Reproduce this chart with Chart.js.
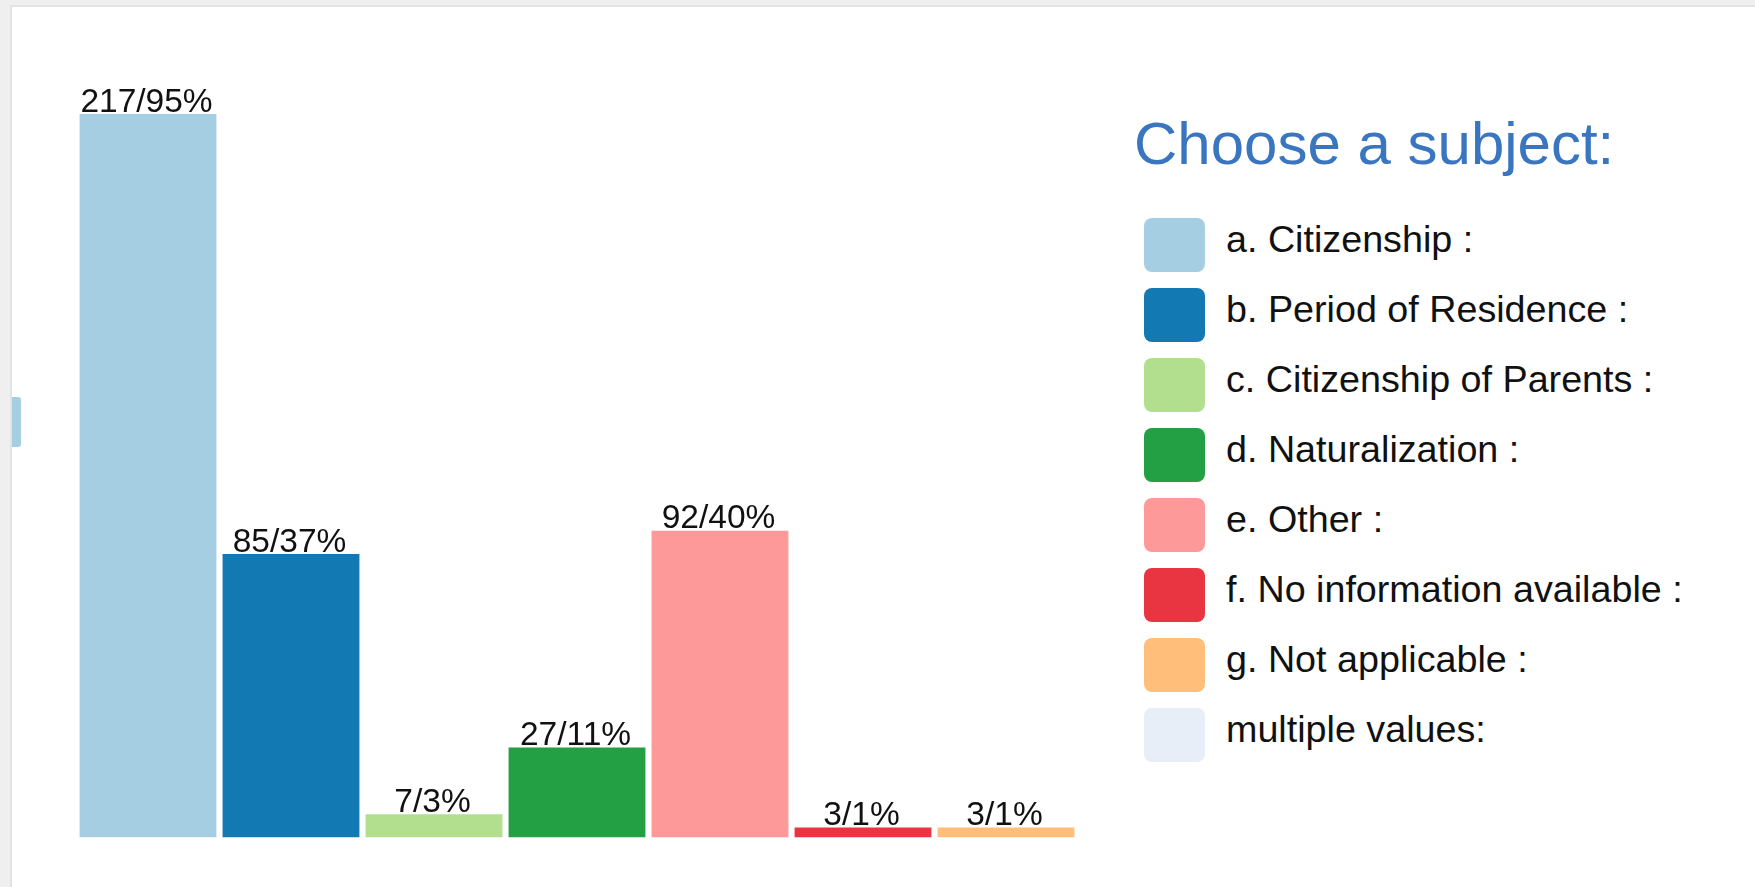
<!DOCTYPE html>
<html>
<head>
<meta charset="utf-8">
<title>Choose a subject</title>
<script src="https://cdn.jsdelivr.net/npm/chart.js@4.4.1/dist/chart.umd.min.js"></script>
<style>
  html, body { margin: 0; padding: 0; }
  body {
    width: 1755px; height: 887px; overflow: hidden;
    background: #efefef;
    font-family: "Liberation Sans", Arial, Helvetica, sans-serif;
  }
  .card {
    position: absolute; left: 10px; top: 5px; right: 0; bottom: 0;
    background: #fff;
    border-left: 2px solid #e3e3e3;
    border-top: 2px solid #e3e3e3;
    overflow: hidden;
  }
  #chart { position: absolute; left: 0; top: 0; }
  .edge-tab {
    position: absolute; left: 0; top: 390px; width: 9px; height: 50px;
    background: #a6cee3; border-radius: 0 3px 3px 0;
  }
  .legend { position: absolute; left: 1122px; top: 107px; }
  .legend h3 {
    margin: 0 0 44px 0; font-weight: normal; font-size: 60px; line-height: 60px;
    color: #3a76c0; letter-spacing: 0;
  }
  .legend ul { list-style: none; margin: 0; padding: 0 0 0 10px; }
  .legend li { display: flex; align-items: flex-start; height: 70px; cursor: pointer; }
  .legend .swatch { width: 61px; height: 54px; border-radius: 8px; flex: none; }
  .legend .name { margin-left: 21px; font-size: 37.7px; line-height: 43px; color: #111; white-space: nowrap; }
</style>
</head>
<body>
<div class="card">
  <canvas id="chart" width="1090" height="860"></canvas>
  <div class="edge-tab"></div>
  <div class="legend">
    <h3>Choose a subject:</h3>
    <ul id="legend-items"></ul>
  </div>
</div>
<script>
// answers per subject and their share of all respondents
const subjects = [
  'a. Citizenship :',
  'b. Period of Residence :',
  'c. Citizenship of Parents :',
  'd. Naturalization :',
  'e. Other :',
  'f. No information available :',
  'g. Not applicable :'
];
const counts = [217, 85, 7, 27, 92, 3, 3];
const percents = [95, 37, 3, 11, 40, 1, 1];
const colors = ['#a6cee3', '#1379b3', '#b2df8e', '#23a044', '#fe999a', '#e83541', '#ffbe79'];

const multiLabel = 'multiple values:';
const multiColor = '#e7eef8';

// value labels "count/percent%" above each bar
const barLabels = {
  id: 'barLabels',
  afterDatasetsDraw(chart) {
    const ctx = chart.ctx;
    const meta = chart.getDatasetMeta(0);
    ctx.save();
    ctx.font = '33.5px "Liberation Sans", Arial, sans-serif';
    ctx.fillStyle = '#111';
    ctx.textAlign = 'center';
    ctx.textBaseline = 'alphabetic';
    meta.data.forEach((bar, i) => {
      ctx.fillText(`${counts[i]}/${percents[i]}%`, bar.x - 1.5, bar.y - 2.5);
    });
    ctx.restore();
  }
};

const chart = new Chart(document.getElementById('chart'), {
  type: 'bar',
  data: {
    labels: subjects,
    datasets: [{
      data: counts,
      backgroundColor: colors,
      borderWidth: 0,
      barPercentage: 0.957,
      categoryPercentage: 1
    }]
  },
  options: {
    responsive: false,
    animation: false,
    layout: { padding: { left: 64.5, right: 24.5, top: 107, bottom: 29.5 } },
    plugins: {
      legend: { display: false },
      tooltip: { enabled: false }
    },
    scales: {
      x: { display: false },
      y: { display: false, min: 0, max: Math.max(...counts) }
    }
  },
  plugins: [barLabels]
});

// legend list, toggles bars on click
const list = document.getElementById('legend-items');
subjects.concat([multiLabel]).forEach((name, i) => {
  const li = document.createElement('li');
  const sw = document.createElement('span');
  sw.className = 'swatch';
  sw.style.background = i < colors.length ? colors[i] : multiColor;
  const txt = document.createElement('span');
  txt.className = 'name';
  txt.textContent = name;
  li.append(sw, txt);
  if (i < subjects.length) {
    li.addEventListener('click', () => {
      chart.toggleDataVisibility(i);
      chart.update();
    });
  }
  list.appendChild(li);
});
</script>
</body>
</html>
